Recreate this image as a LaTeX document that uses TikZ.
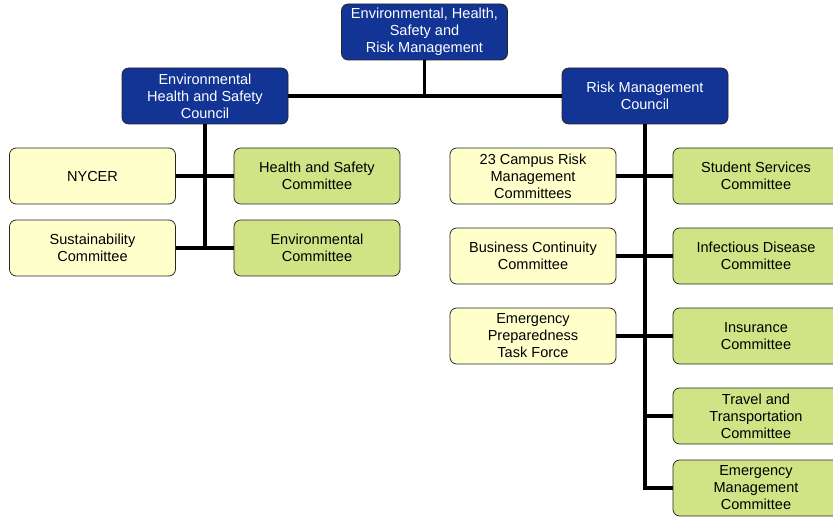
\documentclass[tikz,border=0pt]{standalone}
\usepackage{fontspec}
\setmainfont{Liberation Sans}
\usepackage{tikz}
\usepackage{xcolor}

\definecolor{boardblue}{RGB}{18,52,148}
\definecolor{paleyellow}{RGB}{255,255,204}
\definecolor{palegreen}{RGB}{208,228,134}

\begin{document}
\begin{tikzpicture}[x=0.75pt, y=-0.75pt,
  box/.style={draw=black!85, line width=0.6pt, rounded corners=5pt, align=center,
    minimum width=124.5pt, minimum height=42pt, inner sep=1pt,
    font=\fontsize{10.9}{12.75}\selectfont},
  council/.style={box, fill=boardblue, text=white},
  sidebox/.style={box, fill=paleyellow},
  cmtbox/.style={box, fill=palegreen},
  link/.style={line width=2.4pt}]
\useasboundingbox (0,0) rectangle (833,517);

% top and councils
\node[council] (top) at (424.5,32) {Environmental, Health,\\Safety and\\Risk Management};
\node[council] (ehs) at (205,96) {Environmental\\Health and Safety\\Council};
\node[council] (rmc) at (645,96) {Risk Management\\Council};

% left branch
\node[sidebox] (nycer) at (92.5,176) {NYCER};
\node[sidebox] (sust) at (92.5,248) {Sustainability\\Committee};
\node[cmtbox] (hsc) at (317,176) {Health and Safety\\Committee};
\node[cmtbox] (envc) at (317,248) {Environmental\\Committee};

% right branch
\node[sidebox] (campus) at (533,176) {23 Campus Risk\\Management\\Committees};
\node[sidebox] (bcc) at (533,256) {Business Continuity\\Committee};
\node[sidebox] (eptf) at (533,336) {Emergency\\Preparedness\\Task Force};
\node[cmtbox] (ssc) at (756,176) {Student Services\\Committee};
\node[cmtbox] (idc) at (756,256) {Infectious Disease\\Committee};
\node[cmtbox] (insc) at (756,336) {Insurance\\Committee};
\node[cmtbox] (ttc) at (756,416) {Travel and\\Transportation\\Committee};
\node[cmtbox] (emc) at (756,488) {Emergency\\Management\\Committee};

% connectors
\coordinate (join) at (top.south |- ehs.east);
\draw[link] (ehs.east) -- (rmc.west);
\draw[link] (top.south) -- (join);
\draw[link] (ehs.south) -- (ehs.south |- sust.east);
\draw[link] (nycer.east) -- (hsc.west);
\draw[link] (sust.east) -- (envc.west);
\draw[link] (rmc.south) |- (emc.west);
\draw[link] (campus.east) -- (ssc.west);
\draw[link] (bcc.east) -- (idc.west);
\draw[link] (eptf.east) -- (insc.west);
\draw[link] (rmc.south |- ttc.west) -- (ttc.west);
\end{tikzpicture}
\end{document}
